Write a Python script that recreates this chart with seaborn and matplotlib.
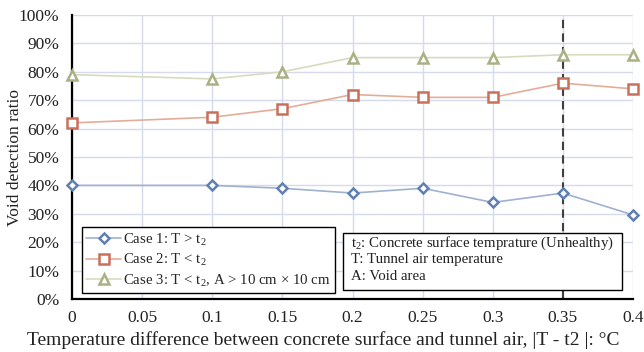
import matplotlib
matplotlib.use("Agg")
import matplotlib.pyplot as plt
import seaborn as sns
import pandas as pd
from matplotlib.ticker import FuncFormatter

x_vals = [0, 0.1, 0.15, 0.2, 0.25, 0.3, 0.35, 0.4]
case1 = [40, 40, 39, 37.3, 39, 34, 37.3, 29.6]
case2 = [62, 64, 67, 72, 71, 71, 76, 74]
case3 = [79, 77.5, 80, 85, 85, 85, 86, 86]
labels = ["Case 1: T > t$_2$", "Case 2: T < t$_2$", "Case 3: T < t$_2$, A > 10 cm × 10 cm"]
x_ticks = [0, 0.05, 0.1, 0.15, 0.2, 0.25, 0.3, 0.35, 0.4]
y_ticks = [0, 10, 20, 30, 40, 50, 60, 70, 80, 90, 100]
note_lines = ["t$_2$: Concrete surface temprature (Unhealthy)", "T: Tunnel air temperature", "A: Void area"]

sns.set_theme(style="white")
plt.rcParams['font.family'] = ['Liberation Serif', 'DejaVu Serif']
plt.rcParams['mathtext.fontset'] = 'custom'
plt.rcParams['mathtext.rm'] = 'Liberation Serif'
plt.rcParams['mathtext.it'] = 'Liberation Serif'

df = pd.DataFrame({
    "x": x_vals * 3,
    "y": case1 + case2 + case3,
    "case": [labels[0]] * 8 + [labels[1]] * 8 + [labels[2]] * 8,
})

fig = plt.figure(figsize=(6.44, 3.52), dpi=100)
L, R, T, B = 72, 633, 15, 299
ax = fig.add_axes([L/644, 1 - B/352, (R-L)/644, (B-T)/352])

def ax_x(px):
    return (px - L) / (R - L)

def ax_y(py):
    return (B - py) / (B - T)

line_colors = ["#9fb1d0", "#e4ad99", "#d5dcbd"]
marker_colors = ["#5f80b3", "#c9705a", "#a9b284"]
markers = ["D", "s", "^"]
msizes = [5, 7, 6.5]

for i, lab in enumerate(labels):
    sub = df[df["case"] == lab]
    sns.lineplot(data=sub, x="x", y="y", ax=ax, color=line_colors[i], lw=1.2,
                 marker=markers[i], markersize=msizes[i], markerfacecolor="white",
                 markeredgecolor=marker_colors[i], markeredgewidth=1.8, label=lab,
                 zorder=3, clip_on=False)

ax.axvline(0.35, color="#404040", ls=(0, (4, 2.5)), lw=1.5, zorder=2)

ax.set_xlim(0, 0.4)
ax.set_ylim(0, 100)
ax.set_xticks(x_ticks)
ax.set_yticks(y_ticks)
ax.xaxis.set_major_formatter(FuncFormatter(lambda v, p: "0" if v == 0 else f"{v:g}"))
ax.yaxis.set_major_formatter(FuncFormatter(lambda v, p: f"{int(v)}%"))
ax.grid(True, color="#d5dbea", lw=1.0)
ax.set_axisbelow(True)
for s in ["top", "right"]:
    ax.spines[s].set_visible(False)
for s in ["left", "bottom"]:
    ax.spines[s].set_color("black")
    ax.spines[s].set_linewidth(1.6)
ax.tick_params(axis="both", direction="in", length=5, width=1.2, color="black",
               labelsize=12.5, labelcolor="#222222")
ax.tick_params(axis="y", pad=9)
ax.tick_params(axis="x", pad=8)
ax.set_xlabel("Temperature difference between concrete surface and tunnel air, |T - t2 |: °C",
              fontsize=14, color="#222222")
ax.xaxis.set_label_coords(ax_x(323), ax_y(331), transform=ax.transAxes)
ax.set_ylabel("Void detection ratio", fontsize=12.5, color="#222222")
ax.yaxis.set_label_coords(ax_x(23), 0.5, transform=ax.transAxes)

leg = ax.legend(loc="upper left", bbox_to_anchor=(ax_x(82), ax_y(227)),
                fontsize=10.7, frameon=True, fancybox=False, edgecolor="black",
                borderpad=0.3, labelspacing=0.3, handlelength=2.3, handletextpad=0.15,
                borderaxespad=0)
leg.get_frame().set_linewidth(1.0)
leg.get_frame().set_facecolor("white")
leg.get_frame().set_alpha(1)

box = plt.Rectangle((ax_x(343), ax_y(290)), ax_x(622) - ax_x(343), ax_y(233) - ax_y(290),
                    transform=ax.transAxes, facecolor="white", edgecolor="black", lw=1.0,
                    zorder=5, clip_on=False)
ax.add_patch(box)
for k, line in enumerate(note_lines):
    ax.text(ax_x(351), ax_y(243 + 17 * k), line, transform=ax.transAxes,
            fontsize=10.7, va="center", ha="left", color="#222222", zorder=6)

fig.savefig("out.png", dpi=100)
